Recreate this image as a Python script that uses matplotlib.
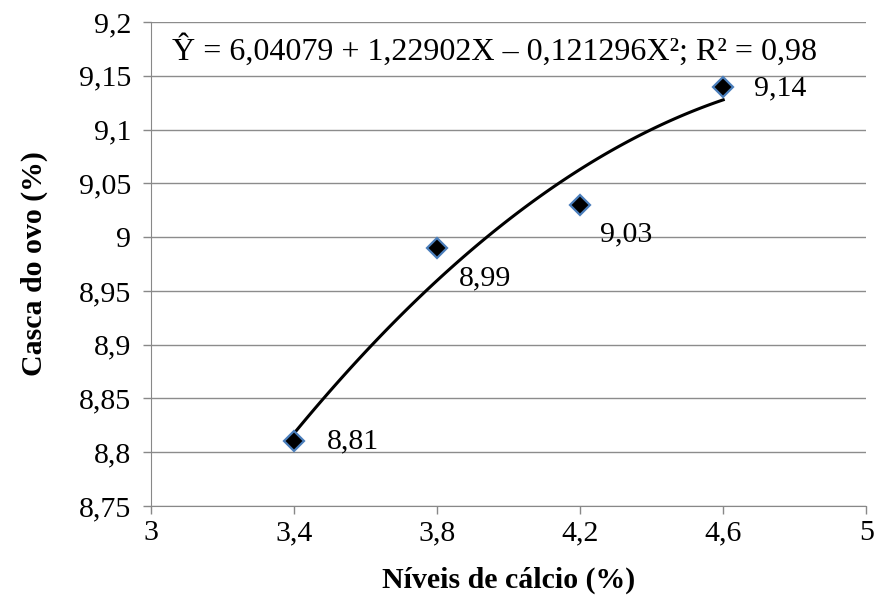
import numpy as np
import matplotlib
matplotlib.use("Agg")
import matplotlib.pyplot as plt

plt.rcParams['font.family'] = ['Liberation Serif', 'DejaVu Serif']

# dados
niveis = [3.4, 3.8, 4.2, 4.6]
casca = [8.81, 8.99, 9.03, 9.14]
rotulos = ['8,81', '8,99', '9,03', '9,14']
coef = [-0.121296, 1.22902, 6.04079]   # X^2, X, constante
xticks = [3, 3.4, 3.8, 4.2, 4.6, 5]
xtick_lab = ['3', '3,4', '3,8', '4,2', '4,6', '5']
yticks = [8.75, 8.8, 8.85, 8.9, 8.95, 9, 9.05, 9.1, 9.15, 9.2]
ytick_lab = ['8,75', '8,8', '8,85', '8,9', '8,95', '9', '9,05', '9,1', '9,15', '9,2']

fig = plt.figure(figsize=(8.76, 6.05), dpi=100)
ax = fig.add_axes([0.172, 0.1636, 0.817, 0.80])

# linha de tendencia
xs = np.linspace(min(niveis), max(niveis), 100)
ax.plot(xs, np.polyval(coef, xs), color='black', lw=2.2, zorder=3)

ax.plot(niveis, casca, ls='none', marker='D', ms=10.5, mfc='black',
        mec='#4A7EBB', mew=1.6, zorder=4)

# posicao dos rotulos (pontos de deslocamento)
offs = [(24, 0), (16, -22), (14, -21), (22, -1)]
for x, y, t, o in zip(niveis, casca, rotulos, offs):
    ax.annotate(t, (x, y), xytext=o, textcoords='offset points',
                fontsize=21.5, va='center', ha='left')

ax.text(0.480, 0.941, 'Ŷ = 6,04079 + 1,22902X – 0,121296X²; R² = 0,98',
        transform=ax.transAxes, fontsize=23, ha='center', va='center',
        bbox=dict(facecolor='white', edgecolor='none', pad=1), zorder=5)

ax.set_xlim(3, 5)
ax.set_ylim(8.75, 9.2)
ax.set_xticks(xticks)
ax.set_xticklabels(xtick_lab)
ax.set_yticks(yticks)
ax.set_yticklabels(ytick_lab)
ax.tick_params(labelsize=21.5, color='#888888', length=6, width=1)
ax.tick_params(axis='x', pad=4)
ax.tick_params(axis='y', pad=8)
ax.yaxis.grid(True, color='#8c8c8c', lw=1)
ax.set_axisbelow(True)
for s in ['top', 'right']:
    ax.spines[s].set_visible(False)
for s in ['left', 'bottom']:
    ax.spines[s].set_color('#888888')

ax.set_xlabel('Níveis de cálcio (%)', fontsize=21.5, fontweight='bold', labelpad=15)
ax.set_ylabel('Casca do ovo (%)', fontsize=21.5, fontweight='bold', labelpad=22)

fig.savefig('out.png', dpi=100)
